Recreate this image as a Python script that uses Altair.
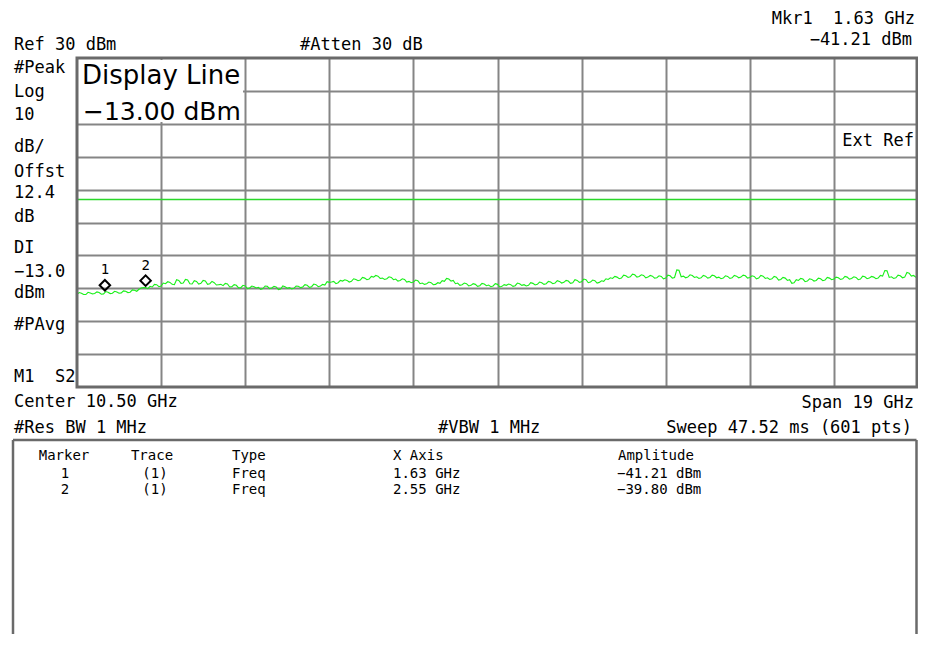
import altair as alt
import pandas as pd

# ---------------- data ----------------
START_GHZ = 1.0
STEP_GHZ = 0.05
level_dbm = [
    -41.8, -41.3, -41.5, -41.9, -41.9, -41.2, -41.4, -41.7, -41.6, -41.1,
    -41.3, -41.8, -41.7, -41.0, -41.2, -41.6, -41.5, -40.9, -41.1, -41.5,
    -41.4, -40.8, -40.9, -41.3, -41.2, -40.5, -40.6, -40.9, -40.3, -39.9,
    -39.8, -39.8, -40.1, -39.4, -39.6, -38.8, -38.9, -39.5, -39.3, -38.4,
    -38.6, -38.0, -38.2, -38.8, -38.9, -37.4, -37.6, -38.5, -38.4, -37.3,
    -37.5, -38.6, -38.7, -37.7, -37.9, -38.7, -38.5, -37.6, -37.8, -38.8,
    -38.6, -37.9, -38.3, -39.0, -38.9, -38.8, -39.2, -38.5, -38.7, -39.6,
    -39.5, -38.9, -39.1, -39.9, -39.8, -39.1, -39.3, -40.1, -39.9, -39.3,
    -39.5, -39.9, -39.7, -40.3, -40.1, -39.3, -39.4, -40.1, -39.9, -39.4,
    -39.6, -40.4, -40.2, -39.3, -39.5, -40.0, -39.8, -40.2, -40.0, -39.3,
    -39.4, -39.8, -39.6, -38.9, -39.1, -39.7, -39.5, -38.7, -38.9, -39.5,
    -39.3, -38.8, -39.0, -38.0, -38.2, -38.1, -37.9, -38.6, -38.3, -37.6,
    -37.8, -37.4, -37.6, -38.1, -37.9, -37.1, -37.3, -37.7, -37.5, -36.7,
    -36.9, -37.4, -37.2, -36.4, -36.6, -36.1, -36.3, -37.0, -36.9, -37.3,
    -37.1, -36.5, -36.7, -37.4, -37.2, -37.8, -37.6, -37.1, -37.3, -38.1,
    -37.9, -38.3, -38.1, -37.5, -37.7, -38.6, -38.4, -38.8, -38.6, -38.1,
    -38.3, -38.9, -38.8, -38.3, -38.5, -37.7, -37.9, -37.0, -37.2, -37.8,
    -37.6, -38.6, -38.4, -39.1, -38.9, -38.4, -38.6, -39.3, -39.1, -38.6,
    -38.8, -39.4, -39.2, -38.5, -38.7, -39.2, -39.0, -39.5, -39.3, -38.6,
    -38.8, -39.6, -39.4, -38.9, -39.1, -38.7, -38.9, -39.4, -39.2, -38.4,
    -38.6, -39.1, -38.9, -39.3, -39.1, -38.3, -38.5, -39.0, -38.8, -38.1,
    -38.3, -38.8, -38.6, -37.9, -38.1, -38.6, -38.4, -37.7, -37.9, -38.4,
    -38.2, -37.6, -37.8, -38.5, -38.3, -37.4, -37.6, -38.2, -38.0, -37.2,
    -37.4, -38.3, -38.1, -37.5, -37.7, -38.4, -38.2, -37.7, -37.9, -37.1,
    -37.3, -36.8, -37.0, -36.4, -36.6, -37.1, -36.9, -36.0, -36.2, -36.7,
    -36.5, -35.7, -35.9, -36.6, -36.4, -35.9, -36.1, -36.8, -36.6, -36.1,
    -36.3, -36.9, -36.8, -36.2, -36.4, -37.1, -36.9, -36.0, -36.2, -36.9,
    -36.7, -34.4, -34.5, -36.5, -36.3, -36.8, -36.6, -35.9, -36.1, -36.7,
    -36.5, -37.0, -36.8, -36.1, -36.3, -36.9, -36.7, -36.0, -36.2, -36.8,
    -36.6, -37.1, -36.9, -36.2, -36.4, -37.0, -36.8, -36.1, -36.3, -36.8,
    -36.6, -36.0, -36.2, -36.9, -36.7, -36.2, -36.4, -37.1, -36.9, -36.1,
    -36.3, -37.0, -36.8, -37.3, -37.1, -36.4, -36.6, -37.5, -37.3, -36.7,
    -36.9, -37.6, -37.4, -38.5, -38.3, -37.4, -37.6, -37.0, -37.2, -38.0,
    -37.8, -37.1, -37.3, -37.8, -37.6, -36.9, -37.1, -37.7, -37.5, -36.7,
    -36.9, -37.4, -37.2, -36.6, -36.8, -37.3, -37.1, -36.4, -36.6, -37.2,
    -37.0, -36.5, -36.7, -37.4, -37.2, -36.3, -36.5, -37.1, -36.9, -36.4,
    -36.6, -37.1, -36.9, -36.1, -36.3, -34.6, -34.7, -36.7, -36.5, -37.0,
    -36.8, -36.0, -36.2, -36.8, -36.6, -35.2, -35.4, -36.3, -36.1, -36.6,
    -36.4,
]
freq_ghz = [round(START_GHZ + STEP_GHZ * i, 3) for i in range(len(level_dbm))]

x_domain = [1.0, 20.0]
y_domain = [-70, 30]
x_grid = [2.9, 4.8, 6.7, 8.6, 10.5, 12.4, 14.3, 16.2, 18.1]
y_grid = [-60, -50, -40, -30, -20, -10, 0, 10, 20]

display_line_dbm = [-13.0]

marker_ids = ["1", "2"]
marker_trace = ["(1)", "(1)"]
marker_type = ["Freq", "Freq"]
marker_freq = [1.63, 2.55]
marker_freq_txt = ["1.63 GHz", "2.55 GHz"]
marker_amp = [-41.21, -39.80]
marker_amp_txt = ["−41.21 dBm", "−39.80 dBm"]

NB = "\u00a0"
side_labels = ["#Peak", "Log", "10", "dB/", "Offst", "12.4", "dB", "DI",
               "−13.0", "dBm", "#PAvg", "M1" + NB + " S2"]
table_headers = ["Marker", "Trace", "Type", "X Axis", "Amplitude"]

# ---------------- layout ----------------
W, H = 841, 329
PAD_L, PAD_T = 69, 50
MONO = "DejaVu Sans Mono"
SANS = "DejaVu Sans"
GRID = "#858585"
BORDER = "#6a6a6a"
TRACE = "#18f018"
DLINE = "#2ad82a"

trace_df = pd.DataFrame({"freq": freq_ghz, "dbm": level_dbm})
mk_df = pd.DataFrame({"freq": marker_freq, "dbm": marker_amp, "id": marker_ids})

xs = alt.Scale(domain=x_domain, nice=False, zero=False)
ys = alt.Scale(domain=y_domain, nice=False, zero=False)

x_enc = alt.X("freq:Q", scale=xs,
              axis=alt.Axis(values=x_grid, grid=True, labels=False, ticks=False,
                            domain=False, title=None, gridColor=GRID, gridWidth=2,
                            gridOpacity=1))
y_enc = alt.Y("dbm:Q", scale=ys,
              axis=alt.Axis(values=y_grid, grid=True, labels=False, ticks=False,
                            domain=False, title=None, gridColor=GRID, gridWidth=2,
                            gridOpacity=1))

trace = alt.Chart(trace_df).mark_line(color=TRACE, strokeWidth=1.1).encode(
    x=x_enc, y=y_enc)

dline = alt.Chart(pd.DataFrame({"dbm": display_line_dbm})).mark_rule(
    color=DLINE, strokeWidth=1.5).encode(y=alt.Y("dbm:Q", scale=ys))

markers = alt.Chart(mk_df).mark_point(
    shape="diamond", filled=False, color="black", strokeWidth=2, size=110,
    yOffset=-7, opacity=1).encode(
    x=alt.X("freq:Q", scale=xs), y=alt.Y("dbm:Q", scale=ys))

marker_lbl = alt.Chart(mk_df).mark_text(
    font=MONO, fontSize=14, baseline="alphabetic", dy=-18, color="black").encode(
    x=alt.X("freq:Q", scale=xs), y=alt.Y("dbm:Q", scale=ys), text="id:N")

box = alt.Chart(pd.DataFrame({"a": [0]})).mark_rect(color="white").encode(
    x=alt.value(1), x2=alt.value(166), y=alt.value(2), y2=alt.value(64))

border = alt.Chart(pd.DataFrame({"a": [0]})).mark_rect(
    fill=None, stroke=BORDER, strokeWidth=3, filled=False).encode(
    x=alt.value(0), x2=alt.value(W - 1), y=alt.value(0), y2=alt.value(H))


def label(text, x, y, size=17, align="left", font=MONO):
    return alt.Chart(pd.DataFrame({"t": [text]})).mark_text(
        align=align, baseline="alphabetic", font=font, fontSize=size,
        color="black").encode(x=alt.value(x), y=alt.value(y), text="t:N")


layers = [box, trace, dline, markers, marker_lbl, border]

layers += [
    label("Mkr1" + NB + " 1.63 GHz", 838, -34, align="right"),
    label("−41.21 dBm", 835, -13, align="right"),
    label("Ref 30 dBm", -63, -8),
    label("#Atten 30 dB", 223, -8),
    label("Display Line", 5, 26, size=26, font=SANS),
    label("−13.00 dBm", 6, 62, size=25, font=SANS),
    label("Ext Ref", 837, 88, align="right"),
    label("Center 10.50 GHz", -63, 349),
    label("Span 19 GHz", 837, 350, align="right"),
    label("#Res BW 1 MHz", -63, 375),
    label("#VBW 1 MHz", 361, 375),
    label("Sweep 47.52 ms (601 pts)", 835, 375, align="right"),
]

side_y = [15, 39, 62, 94, 119, 140, 164, 195, 219, 240, 272, 324]
for t, yy in zip(side_labels, side_y):
    layers.append(label(t, -63, yy))

# marker table box
TOP, LEFT, RIGHT, BOT = 382, -64, 839.5, 600
for (x1, x2, y1, y2) in [(LEFT, RIGHT, TOP, TOP), (LEFT, LEFT, TOP, BOT),
                         (RIGHT, RIGHT, TOP, BOT)]:
    layers.append(
        alt.Chart(pd.DataFrame({"a": [0]})).mark_rule(
            color=BORDER, strokeWidth=2.5).encode(
            x=alt.value(x1), x2=alt.value(x2), y=alt.value(y1), y2=alt.value(y2)))

col_x = [-13, 75, 155, 316, 541]
col_align = ["center", "center", "left", "left", "left"]
for h, cx, al in zip(table_headers, col_x, col_align):
    layers.append(label(h, cx, 402, size=14, align=al))
row_y = [420, 436]
row_x = [-12, 78, 155, 316, 540]
for i in range(len(marker_ids)):
    row = [marker_ids[i], marker_trace[i], marker_type[i], marker_freq_txt[i],
           marker_amp_txt[i]]
    for t, cx, al in zip(row, row_x, col_align):
        layers.append(label(t, cx, row_y[i], size=14, align=al))

chart = alt.layer(*layers).properties(
    width=W, height=H,
    autosize=alt.AutoSizeParams(type="none"),
    padding={"left": PAD_L, "top": PAD_T, "right": 0, "bottom": 247},
    background="white",
).configure_view(stroke=None)

chart.save("out.html", embed_options={"renderer": "svg", "actions": False})
